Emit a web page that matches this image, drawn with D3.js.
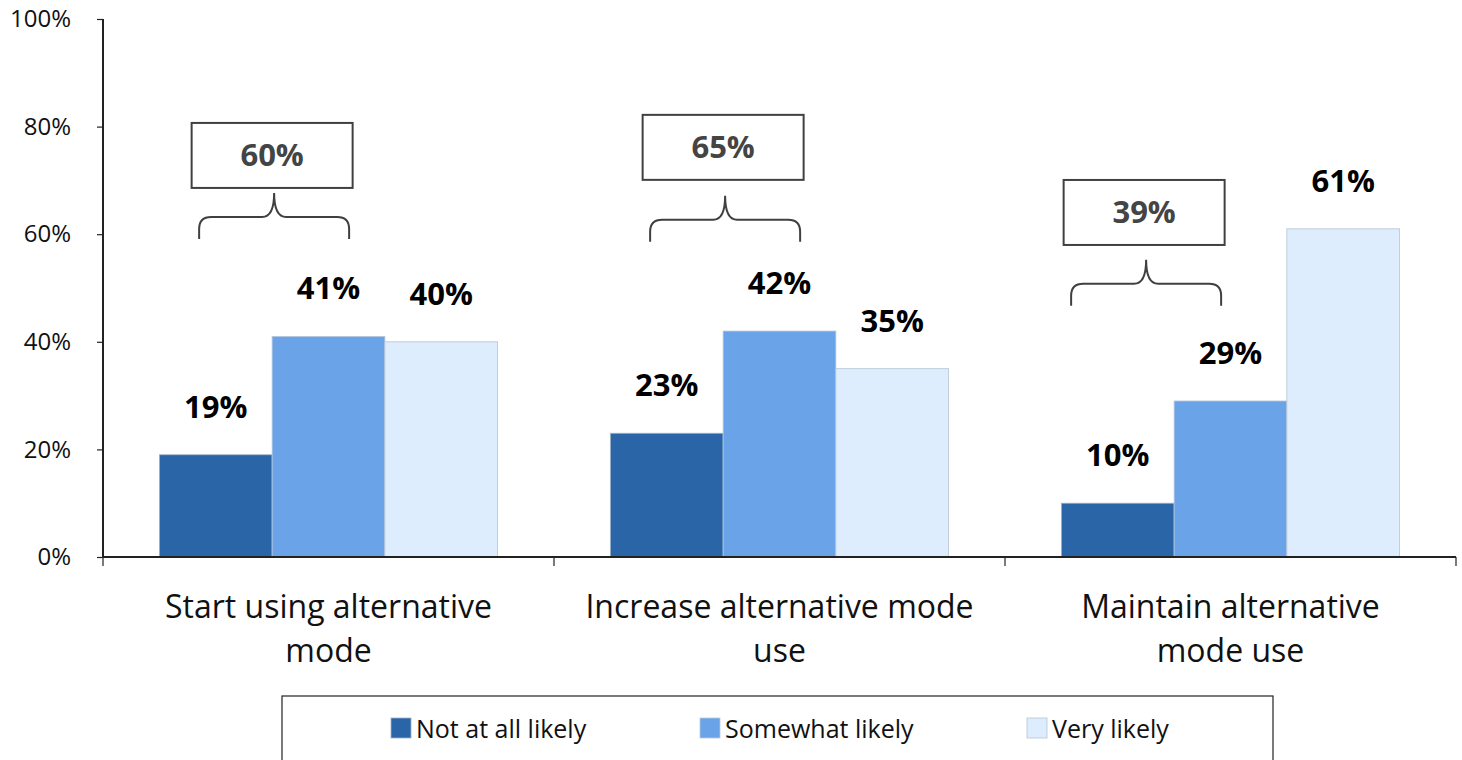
<!DOCTYPE html>
<html>
<head>
<meta charset="utf-8">
<script src="https://cdn.jsdelivr.net/npm/d3@7"></script>
<style>
  html, body { margin: 0; padding: 0; background: #fff; }
  svg { display: block; }
  text { font-family: "Open Sans", "Noto Sans", sans-serif; }
</style>
</head>
<body>
<svg id="chart" width="1462" height="760"></svg>
<script>
// Likelihood of changing travel mode, by intended action
const categories = [
  ["Start using alternative", "mode"],
  ["Increase alternative mode", "use"],
  ["Maintain alternative", "mode use"]
];
const seriesNames = ["Not at all likely", "Somewhat likely", "Very likely"];
const notAtAll = [19, 23, 10];
const somewhat = [41, 42, 29];
const veryLikely = [40, 35, 61];
// Combined "not at all" + "somewhat" shares shown in the callout boxes
const combined = [60, 65, 39];
// Levels (in %) of each bracket's feet and of each callout box's lower edge
const bracketLevel = [59.1, 58.6, 46.7];
const boxLevel = [68.6, 70.1, 58.0];
const yTicks = [0, 20, 40, 60, 80, 100];

const series = [notAtAll, somewhat, veryLikely];
const colors = ["#2A65A8", "#6BA3E8", "#DEEDFD"];
const strokes = ["#9fb3c8", "#b7c9dc", "#b5c3d1"];

const svg = d3.select("#chart");
const m = { left: 103, right: 1456, top: 19, bottom: 557 };

const x = d3.scaleBand().domain(d3.range(categories.length))
  .range([m.left, m.right]).paddingInner(0).paddingOuter(0);
const xs = d3.scaleBand().domain(d3.range(series.length))
  .range([0, x.bandwidth()]).paddingOuter(0.5).paddingInner(0);
const y = d3.scaleLinear().domain([0, 100]).range([m.bottom, m.top]);

// Bars
series.forEach((vals, si) => {
  svg.append("g").selectAll("rect").data(vals).join("rect")
    .attr("x", (d, i) => x(i) + xs(si))
    .attr("y", d => y(d))
    .attr("width", xs.bandwidth())
    .attr("height", d => y(0) - y(d))
    .attr("fill", colors[si])
    .attr("stroke", strokes[si])
    .attr("stroke-width", 0.8);
});

// Value labels
series.forEach((vals, si) => {
  svg.append("g").selectAll("text").data(vals).join("text")
    .attr("x", (d, i) => x(i) + xs(si) + xs.bandwidth() / 2)
    .attr("y", d => y(d) - 37)
    .attr("text-anchor", "middle")
    .attr("font-size", 31)
    .attr("font-weight", 700)
    .attr("fill", "#000")
    .text(d => d + "%");
});

// Y axis
const yAxis = svg.append("g")
  .attr("transform", `translate(${m.left},0)`)
  .call(d3.axisLeft(y).tickValues(yTicks).tickFormat(d => d + "%").tickSize(6).tickPadding(26));
yAxis.select(".domain").attr("stroke", "#222").attr("stroke-width", 2).attr("d", `M0,${m.top}V${m.bottom}`);
yAxis.selectAll(".tick line").attr("stroke", "#222").attr("stroke-width", 1.2);
yAxis.selectAll(".tick text").attr("font-size", 24).attr("fill", "#111")
  .style("font-family", "'Open Sans', sans-serif");

// X axis with category boundary ticks
const xAxis = svg.append("g");
xAxis.append("line")
  .attr("x1", m.left).attr("x2", m.right)
  .attr("y1", m.bottom).attr("y2", m.bottom)
  .attr("stroke", "#222").attr("stroke-width", 2);
const bounds = d3.range(categories.length + 1).map(i => i < categories.length ? x(i) : x(i - 1) + x.bandwidth());
xAxis.selectAll(".xt").data(bounds).join("line")
  .attr("class", "xt")
  .attr("x1", d => d).attr("x2", d => d)
  .attr("y1", m.bottom).attr("y2", m.bottom + 9)
  .attr("stroke", "#222").attr("stroke-width", 1.2);

// Category labels
categories.forEach((lines, i) => {
  const t = svg.append("text")
    .attr("text-anchor", "middle")
    .attr("font-size", 32)
    .attr("fill", "#111");
  lines.forEach((ln, k) => {
    t.append("tspan")
      .attr("x", x(i) + x.bandwidth() / 2)
      .attr("y", 618 + k * 44)
      .text(ln);
  });
});

// Callout brackets with boxed totals
const bracketShift = [2, 2, -28];
combined.forEach((v, i) => {
  const cx = x(i) + xs(1) + bracketShift[i];
  const yb = y(bracketLevel[i]);
  const half = 75, h = 46, r = 12;
  const mid = yb - 22;
  const path = [
    `M${cx - half},${yb}`,
    `V${mid + r}`,
    `Q${cx - half},${mid} ${cx - half + r},${mid}`,
    `H${cx - r}`,
    `Q${cx},${mid} ${cx},${yb - h}`,
    `Q${cx},${mid} ${cx + r},${mid}`,
    `H${cx + half - r}`,
    `Q${cx + half},${mid} ${cx + half},${mid + r}`,
    `V${yb}`
  ].join(" ");
  svg.append("path").attr("d", path)
    .attr("fill", "none").attr("stroke", "#404040").attr("stroke-width", 2);
  const bw = 161, bh = 65;
  const by = y(boxLevel[i]) - bh;
  svg.append("rect")
    .attr("x", cx - bw / 2 - 2).attr("y", by)
    .attr("width", bw).attr("height", bh)
    .attr("fill", "#fff").attr("stroke", "#404040").attr("stroke-width", 2);
  svg.append("text")
    .attr("x", cx - 2).attr("y", by + bh / 2 + 11)
    .attr("text-anchor", "middle")
    .attr("font-size", 31).attr("font-weight", 700)
    .attr("fill", "#444")
    .text(v + "%");
});

// Legend
const legend = svg.append("g");
legend.append("rect")
  .attr("x", 282).attr("y", 696).attr("width", 991).attr("height", 80)
  .attr("fill", "#fff").attr("stroke", "#222").attr("stroke-width", 1.2);
const legendX = [391, 700, 1027];
seriesNames.forEach((name, i) => {
  legend.append("rect")
    .attr("x", legendX[i]).attr("y", 718).attr("width", 20).attr("height", 20)
    .attr("fill", colors[i]).attr("stroke", strokes[i]).attr("stroke-width", 0.8);
  legend.append("text")
    .attr("x", legendX[i] + 25).attr("y", 738)
    .attr("font-size", 25).attr("fill", "#111")
    .text(name);
});
</script>
</body>
</html>
